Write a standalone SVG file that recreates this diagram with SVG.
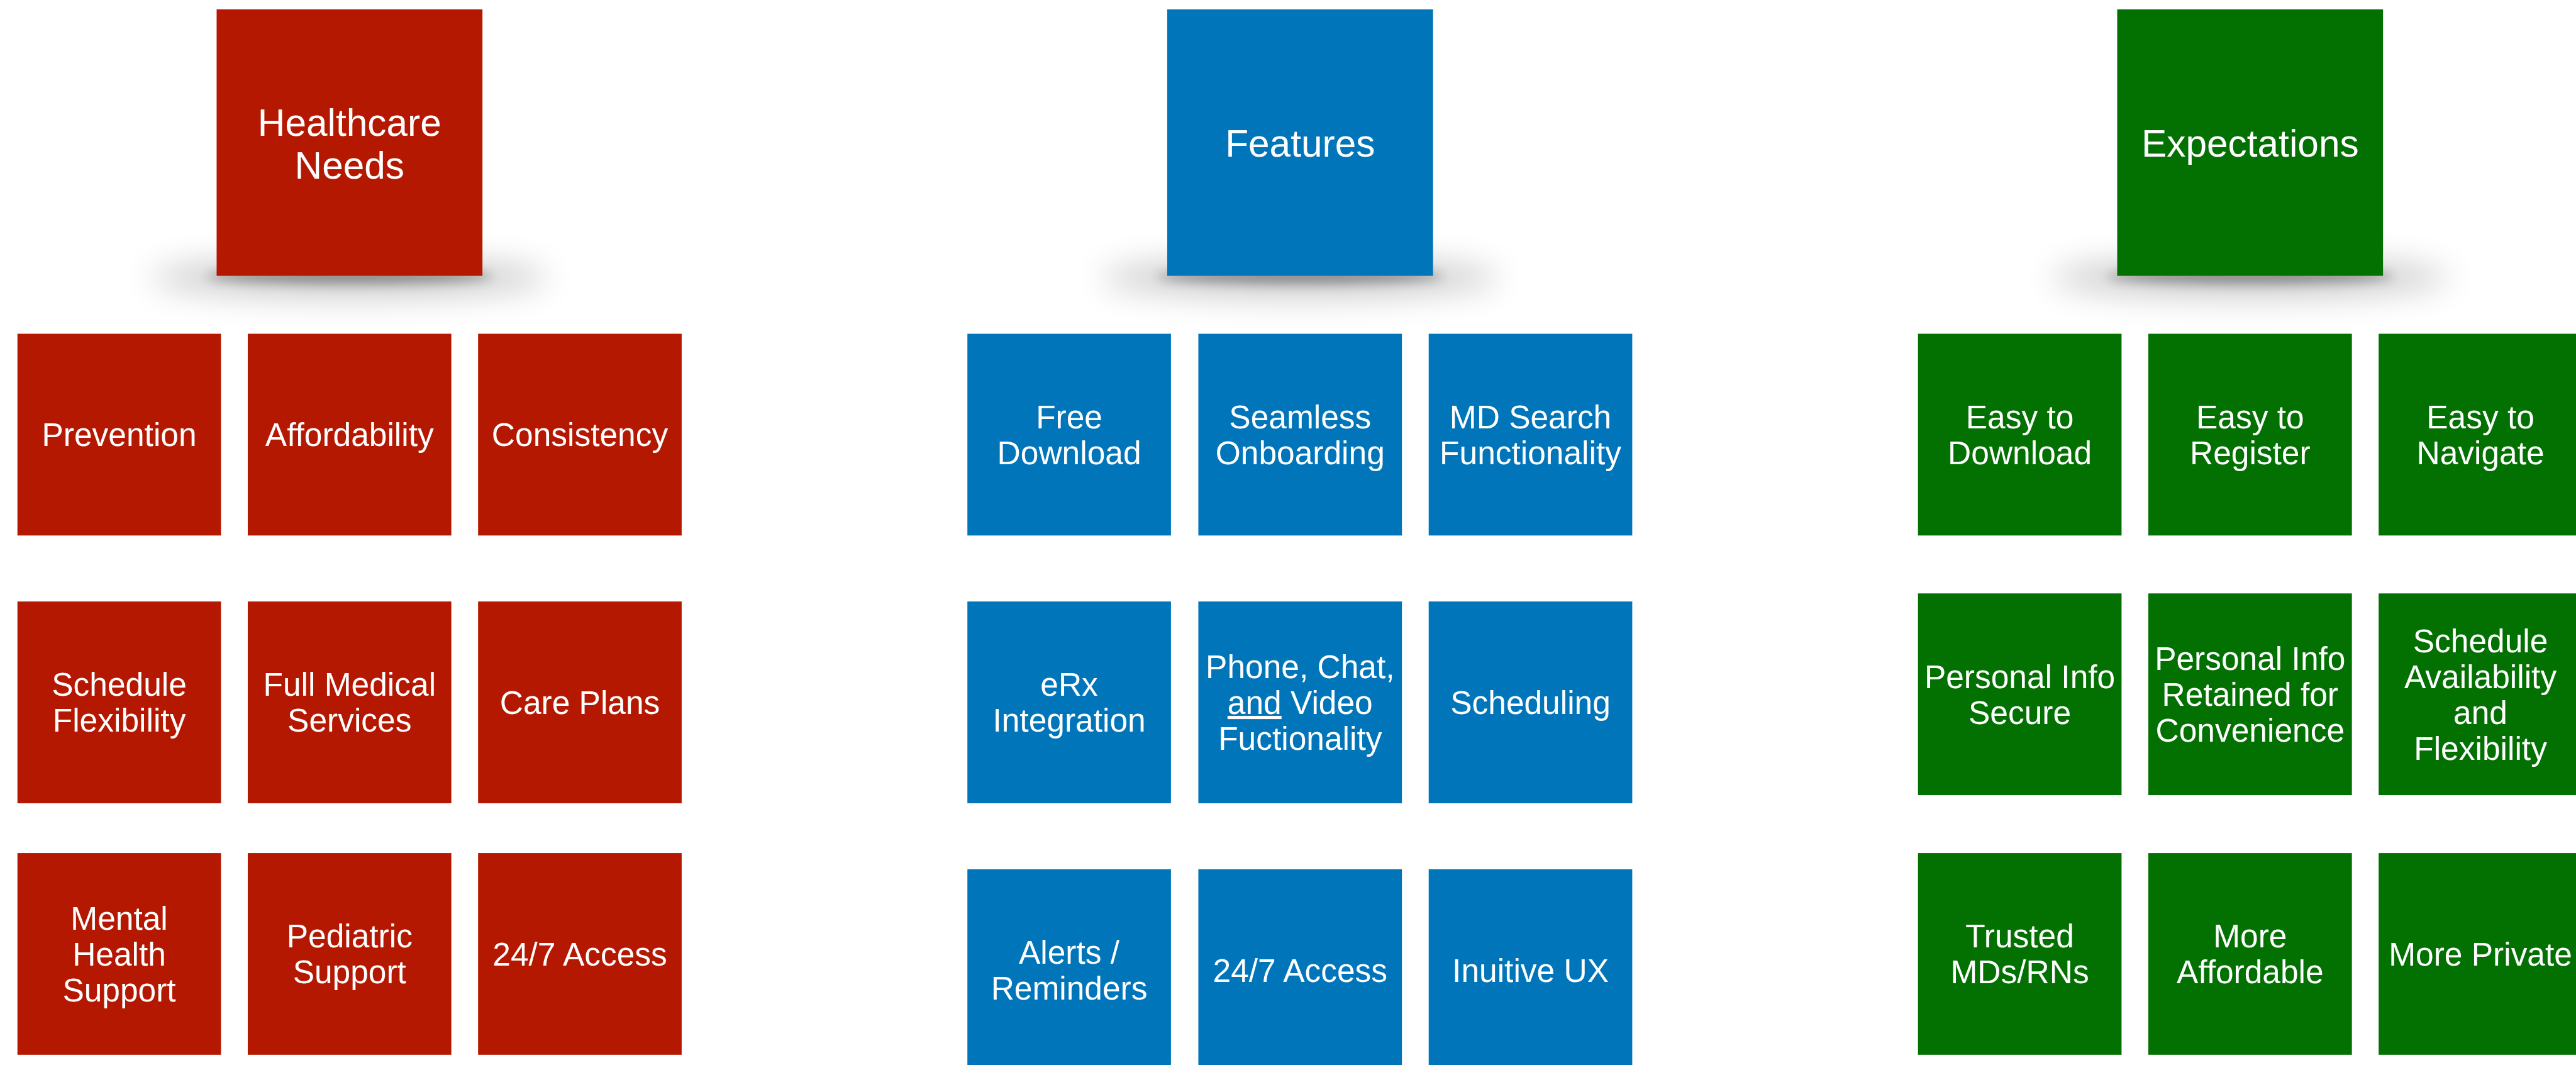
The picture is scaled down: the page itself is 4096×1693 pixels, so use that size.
<svg xmlns="http://www.w3.org/2000/svg" width="4096" height="1693" viewBox="0 0 4096 1693">
<defs>
<style>
.red{fill:#B41800}
.blue{fill:#0075BA}
.green{fill:#037002}
text{font-family:"Liberation Sans",Arial,Helvetica,sans-serif;fill:#FFFFFF;text-anchor:middle}
.t{font-size:52px}
.h{font-size:61px}
.sh{fill:#000000;opacity:0.2;filter:url(#blur)}
.sh2{fill:#000000;opacity:0.35;filter:url(#blur2)}
</style>
<filter id="blur" x="-50%" y="-300%" width="200%" height="700%">
<feGaussianBlur stdDeviation="26"/>
</filter>
<filter id="blur2" x="-50%" y="-300%" width="200%" height="700%">
<feGaussianBlur stdDeviation="9"/>
</filter>
</defs>
<rect width="4096" height="1693" fill="#FFFFFF"/>
<g transform="scale(0.98985)">
<g id="connectors"/>
<!-- Healthcare column -->
<g id="hdr-healthcare">
<ellipse class="sh" cx="561.5" cy="446" rx="320" ry="32"/>
<ellipse class="sh2" cx="561.5" cy="444" rx="230" ry="12"/>
<rect class="red" x="348" y="15" width="427" height="428"/>
<text class="h" x="561.5" y="218">Healthcare</text>
<text class="h" x="561.5" y="287">Needs</text>
</g>
<g id="hc-prevention"><rect class="red" x="28" y="536" width="327" height="324"/><text class="t" x="191.5" y="716.6">Prevention</text></g>
<g id="hc-affordability"><rect class="red" x="398" y="536" width="327" height="324"/><text class="t" x="561.5" y="716.6">Affordability</text></g>
<g id="hc-consistency"><rect class="red" x="768" y="536" width="327" height="324"/><text class="t" x="931.5" y="716.6">Consistency</text></g>
<g id="hc-schedule"><rect class="red" x="28" y="966" width="327" height="324"/><text class="t" x="191.5" y="1117.8">Schedule</text><text class="t" x="191.5" y="1175.4">Flexibility</text></g>
<g id="hc-fullmedical"><rect class="red" x="398" y="966" width="327" height="324"/><text class="t" x="561.5" y="1117.8">Full Medical</text><text class="t" x="561.5" y="1175.4">Services</text></g>
<g id="hc-careplans"><rect class="red" x="768" y="966" width="327" height="324"/><text class="t" x="931.5" y="1146.6">Care Plans</text></g>
<g id="hc-mental"><rect class="red" x="28" y="1370" width="327" height="324"/><text class="t" x="191.5" y="1493">Mental</text><text class="t" x="191.5" y="1550.6">Health</text><text class="t" x="191.5" y="1608.2">Support</text></g>
<g id="hc-pediatric"><rect class="red" x="398" y="1370" width="327" height="324"/><text class="t" x="561.5" y="1521.8">Pediatric</text><text class="t" x="561.5" y="1579.4">Support</text></g>
<g id="hc-access"><rect class="red" x="768" y="1370" width="327" height="324"/><text class="t" x="931.5" y="1550.6">24/7 Access</text></g>
<!-- Features column -->
<g id="hdr-features">
<ellipse class="sh" cx="2088.5" cy="446" rx="320" ry="32"/>
<ellipse class="sh2" cx="2088.5" cy="444" rx="230" ry="12"/>
<rect class="blue" x="1875" y="15" width="427" height="428"/>
<text class="h" x="2088.5" y="252">Features</text>
</g>
<g id="ft-free"><rect class="blue" x="1554" y="536" width="327" height="324"/><text class="t" x="1717.5" y="687.8">Free</text><text class="t" x="1717.5" y="745.4">Download</text></g>
<g id="ft-seamless"><rect class="blue" x="1925" y="536" width="327" height="324"/><text class="t" x="2088.5" y="687.8">Seamless</text><text class="t" x="2088.5" y="745.4">Onboarding</text></g>
<g id="ft-mdsearch"><rect class="blue" x="2295" y="536" width="327" height="324"/><text class="t" x="2458.5" y="687.8">MD Search</text><text class="t" x="2458.5" y="745.4">Functionality</text></g>
<g id="ft-erx"><rect class="blue" x="1554" y="966" width="327" height="324"/><text class="t" x="1717.5" y="1117.8">eRx</text><text class="t" x="1717.5" y="1175.4">Integration</text></g>
<g id="ft-phone"><rect class="blue" x="1925" y="966" width="327" height="324"/><text class="t" x="2088.5" y="1089">Phone, Chat,</text><text class="t" x="2088.5" y="1146.6"><tspan style="text-decoration:underline">and</tspan> Video</text><text class="t" x="2088.5" y="1204.2">Fuctionality</text></g>
<g id="ft-scheduling"><rect class="blue" x="2295" y="966" width="327" height="324"/><text class="t" x="2458.5" y="1146.6">Scheduling</text></g>
<g id="ft-alerts"><rect class="blue" x="1554" y="1396" width="327" height="324"/><text class="t" x="1717.5" y="1547.8">Alerts /</text><text class="t" x="1717.5" y="1605.4">Reminders</text></g>
<g id="ft-access"><rect class="blue" x="1925" y="1396" width="327" height="324"/><text class="t" x="2088.5" y="1576.6">24/7 Access</text></g>
<g id="ft-ux"><rect class="blue" x="2295" y="1396" width="327" height="324"/><text class="t" x="2458.5" y="1576.6">Inuitive UX</text></g>
<!-- Expectations column -->
<g id="hdr-expectations">
<ellipse class="sh" cx="3614.5" cy="446" rx="320" ry="32"/>
<ellipse class="sh2" cx="3614.5" cy="444" rx="230" ry="12"/>
<rect class="green" x="3401" y="15" width="427" height="428"/>
<text class="h" x="3614.5" y="252">Expectations</text>
</g>
<g id="ex-download"><rect class="green" x="3081" y="536" width="327" height="324"/><text class="t" x="3244.5" y="687.8">Easy to</text><text class="t" x="3244.5" y="745.4">Download</text></g>
<g id="ex-register"><rect class="green" x="3451" y="536" width="327" height="324"/><text class="t" x="3614.5" y="687.8">Easy to</text><text class="t" x="3614.5" y="745.4">Register</text></g>
<g id="ex-navigate"><rect class="green" x="3821" y="536" width="327" height="324"/><text class="t" x="3984.5" y="687.8">Easy to</text><text class="t" x="3984.5" y="745.4">Navigate</text></g>
<g id="ex-secure"><rect class="green" x="3081" y="953" width="327" height="324"/><text class="t" x="3244.5" y="1104.8">Personal Info</text><text class="t" x="3244.5" y="1162.4">Secure</text></g>
<g id="ex-retained"><rect class="green" x="3451" y="953" width="327" height="324"/><text class="t" x="3614.5" y="1076">Personal Info</text><text class="t" x="3614.5" y="1133.6">Retained for</text><text class="t" x="3614.5" y="1191.2">Convenience</text></g>
<g id="ex-schedule"><rect class="green" x="3821" y="953" width="327" height="324"/><text class="t" x="3984.5" y="1047.2">Schedule</text><text class="t" x="3984.5" y="1104.8">Availability</text><text class="t" x="3984.5" y="1162.4">and</text><text class="t" x="3984.5" y="1220">Flexibility</text></g>
<g id="ex-trusted"><rect class="green" x="3081" y="1370" width="327" height="324"/><text class="t" x="3244.5" y="1521.8">Trusted</text><text class="t" x="3244.5" y="1579.4">MDs/RNs</text></g>
<g id="ex-affordable"><rect class="green" x="3451" y="1370" width="327" height="324"/><text class="t" x="3614.5" y="1521.8">More</text><text class="t" x="3614.5" y="1579.4">Affordable</text></g>
<g id="ex-private"><rect class="green" x="3821" y="1370" width="327" height="324"/><text class="t" x="3984.5" y="1550.6">More Private</text></g>
</g>
</svg>
